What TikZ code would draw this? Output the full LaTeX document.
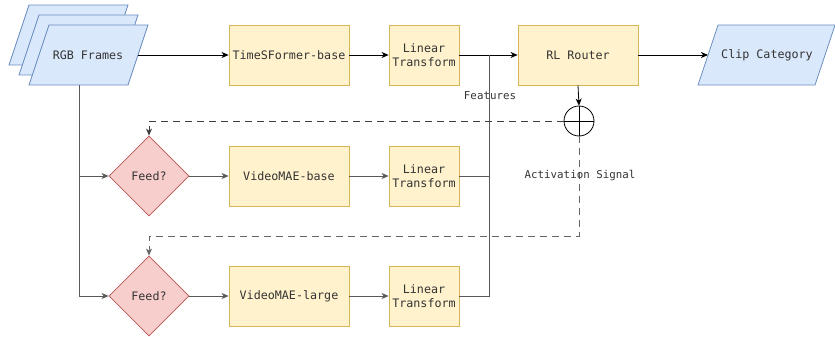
\documentclass[tikz,border=0pt]{standalone}
\usepackage{fontspec}
\setmonofont{DejaVu Sans Mono}
\usetikzlibrary{shapes.geometric,arrows.meta,calc}
\definecolor{yfill}{HTML}{FFF2CC}
\definecolor{ystroke}{HTML}{D6B656}
\definecolor{bfill}{HTML}{DAE8FC}
\definecolor{bstroke}{HTML}{6C8EBF}
\definecolor{rfill}{HTML}{F8CECC}
\definecolor{rstroke}{HTML}{B85450}
\definecolor{txt}{HTML}{333333}
\begin{document}
\begin{tikzpicture}[x=1pt,y=-1pt,
  lbl/.style={font=\ttfamily\fontsize{11.7}{14}\selectfont, text=txt, align=center, inner sep=0},
  small/.style={font=\ttfamily\fontsize{10.8}{13}\selectfont, text=txt, inner sep=0},
  ybox/.style={lbl, draw=ystroke, fill=yfill, line width=0.8pt, minimum height=60},
  bigbox/.style={ybox, minimum width=120},
  ltbox/.style={ybox, minimum width=70},
  feed/.style={lbl, diamond, aspect=1, draw=rstroke, fill=rfill, line width=0.8pt, minimum width=80, minimum height=80},
  para/.style={draw=bstroke, fill=bfill, line width=0.8pt},
  conn/.style={line width=0.8pt, draw=black},
  gconn/.style={line width=0.8pt, draw=black!65},
  arr/.style={-{Stealth[length=7pt,width=6pt,inset=2pt]}},
  dsh/.style={dash pattern=on 7pt off 5pt}
]
\useasboundingbox (0,0) rectangle (835,337);

% RGB frames stack
\draw[para] (29,5) -- (128,5) -- (108,65) -- (9,65) -- cycle;
\draw[para] (39,15) -- (138,15) -- (118,75) -- (19,75) -- cycle;
\draw[para] (49,25) -- (148,25) -- (128,85) -- (29,85) -- cycle;
\node[lbl, minimum width=100, minimum height=60] (rgb) at (88,55) {RGB Frames};
\coordinate (rgbS) at (79,85);

% Clip category
\draw[para] (718,25) -- (835,25) -- (815,85) -- (698,85) -- cycle;
\node[lbl] (clip) at (767,55) {Clip Category};
\coordinate (clipW) at (708,55);

% Top row
\node[bigbox] (tsf) at (289,55) {TimeSFormer-base};
\node[ltbox] (lt1) at (424,55) {Linear\\Transform};
\node[bigbox] (router) at (578,55) {RL Router};

% Middle row
\node[feed] (f1) at (149,176) {Feed?};
\node[bigbox] (vb) at (289,176) {VideoMAE-base};
\node[ltbox] (lt2) at (424,176) {Linear\\Transform};

% Bottom row
\node[feed] (f2) at (149,296) {Feed?};
\node[bigbox] (vl) at (289,296) {VideoMAE-large};
\node[ltbox] (lt3) at (424,296) {Linear\\Transform};

% Oplus
\node[circle, draw=black, line width=0.8pt, minimum size=30, inner sep=0] (op) at (579,121) {};
\draw[line width=0.8pt] (op.north) -- (op.south) (op.west) -- (op.east);

\coordinate (j1) at (489,55);
\coordinate (act) at (579,236);

% Top connectors
\draw[conn, arr] (rgb.east) -- (tsf.west);
\draw[conn, arr] (tsf.east) -- (lt1.west);
\draw[conn, arr] (lt1.east) -- (router.west);
\draw[conn, arr] (router.east) -- (clipW);
\draw[conn, arr] (router.south) -- (op.north);

% Feature aggregation
\draw[gconn] (lt3.east) -| (j1);
\draw[gconn] (lt2.east) -- (lt2.east -| j1);

% Left feed line
\draw[gconn, arr] (rgbS) |- (f2.west);
\draw[gconn, arr] (rgbS |- f1.west) -- (f1.west);

% Model row connectors
\draw[gconn, arr] (f1.east) -- (vb.west);
\draw[gconn, arr] (vb.east) -- (lt2.west);
\draw[gconn, arr] (f2.east) -- (vl.west);
\draw[gconn, arr] (vl.east) -- (lt3.west);

% Activation signals
\draw[line width=0.8pt, draw=black!75, dsh, arr] (op.west) -| (f1.north);
\draw[line width=0.8pt, draw=black!60, dsh, arr] (op.south) -- (act) -| (f2.north);

% Labels
\node[small] (featlbl) at (490,96) {Features};
\node[small] (actlbl) at (580,176) {Activation Signal};
\end{tikzpicture}
\end{document}
